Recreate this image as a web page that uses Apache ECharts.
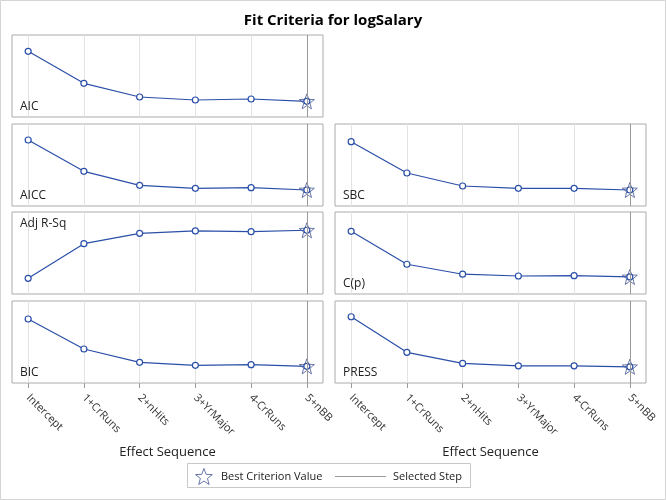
<!DOCTYPE html>
<html>
<head>
<meta charset="utf-8">
<script src="https://cdn.jsdelivr.net/npm/echarts@6/dist/echarts.min.js"></script>
<style>
html,body{margin:0;padding:0;background:#fff;}
#chart{width:666px;height:500px;}
</style>
</head>
<body>
<div id="chart"></div>
<script>
// ---- data ----
var categories = ['Intercept', '1+CrRuns', '2+nHits', '3+YrMajor', '4-CrRuns', '5+nBB'];
var selectedStep = '5+nBB';
var aic    = [-61, -157, -198, -207, -204, -211];
var aicc   = [-59, -153, -195, -204, -202, -209];
var adjRSq = [0.000, 0.396, 0.515, 0.542, 0.534, 0.550];
var bic    = [-57, -147, -187, -196, -194, -199];
var sbc    = [-57, -151, -190, -197, -197, -202];
var cp     = [290, 85, 23, 12, 14, 6];
var press  = [208, 129, 104.5, 99.2, 99.2, 97];

// ---- layout ----
var FONT = 'Open Sans';
var colLeft = [12, 335];
var rowTop = [35, 124, 212, 301];
var panelW = 311, panelH = 82;
var lineColor = '#2A4FA8';
var starColor = '#445694';
var starPath = 'path://M50,0 L62.35,33 L97.55,34.55 L69.95,56.5 L79.4,90.45 L50,71 L20.6,90.45 L30.05,56.5 L2.45,34.55 L37.65,33 Z';

var panels = [
  {name: 'AIC',      values: aic,    row: 0, col: 0, best: 'min', range: [-258, -12],   labelTop: false},
  {name: 'AICC',     values: aicc,   row: 1, col: 0, best: 'min', range: [-257, -11],   labelTop: false},
  {name: 'Adj R-Sq', values: adjRSq, row: 2, col: 0, best: 'max', range: [-0.18, 0.759], labelTop: true},
  {name: 'BIC',      values: bic,    row: 3, col: 0, best: 'min', range: [-249, -3],    labelTop: false},
  {name: 'SBC',      values: sbc,    row: 1, col: 1, best: 'min', range: [-250, -4],    labelTop: false},
  {name: 'C(p)',     values: cp,     row: 2, col: 1, best: 'min', range: [-100, 410],   labelTop: false},
  {name: 'PRESS',    values: press,  row: 3, col: 1, best: 'min', range: [61, 243],     labelTop: false}
];

var tickIdx = categories.map(function (c, i) { return i; });
var selIdx = categories.indexOf(selectedStep);

var grids = [], xAxes = [], yAxes = [], series = [], titles = [];

titles.push({
  text: 'Fit Criteria for logSalary',
  left: 'center', top: 13, padding: 0,
  textStyle: {fontFamily: FONT, fontSize: 15, fontWeight: 'bold', color: '#000'}
});

panels.forEach(function (p, i) {
  var isBottom = p.row === 3;
  grids.push({
    left: colLeft[p.col], top: rowTop[p.row], width: panelW, height: panelH,
    show: true, borderColor: '#ababab', borderWidth: 1, backgroundColor: 'transparent'
  });
  xAxes.push({
    gridIndex: i, type: 'value', min: -0.29, max: 5.29,
    axisLine: {show: false, onZero: false},
    axisTick: {show: isBottom, customValues: tickIdx, length: 5, lineStyle: {color: '#9a9a9a'}},
    axisLabel: {
      show: isBottom, customValues: tickIdx, rotate: -45, margin: 13,
      fontFamily: FONT, fontSize: 11, color: '#333',
      formatter: function (v) { return categories[Math.round(v)]; }
    },
    splitLine: {show: true, lineStyle: {color: '#e3e3e3', width: 1}},
    name: isBottom ? 'Effect Sequence' : '',
    nameLocation: 'middle', nameGap: 63,
    nameTextStyle: {fontFamily: FONT, fontSize: 13, color: '#222'}
  });
  yAxes.push({
    gridIndex: i, type: 'value', min: p.range[0], max: p.range[1], show: false,
    splitLine: {show: false}
  });
  // criterion line
  series.push({
    name: p.name, type: 'line', xAxisIndex: i, yAxisIndex: i,
    data: p.values.map(function (v, k) { return [k, v]; }),
    symbol: 'circle', symbolSize: 6, showAllSymbol: true,
    itemStyle: {color: '#fff', borderColor: lineColor, borderWidth: 1.2},
    lineStyle: {color: lineColor, width: 1.2},
    z: 3, silent: true
  });
  // selected step
  series.push({
    name: 'Selected Step', type: 'line', xAxisIndex: i, yAxisIndex: i,
    data: [], symbol: 'none',
    lineStyle: {color: '#999', width: 1},
    itemStyle: {color: '#999'},
    markLine: {
      silent: true, symbol: 'none', label: {show: false},
      lineStyle: {color: '#999', width: 1, type: 'solid'},
      data: [{xAxis: selIdx}]
    },
    z: 2
  });
  // best criterion
  var bestVal = p.best === 'min' ? Math.min.apply(null, p.values) : Math.max.apply(null, p.values);
  var bestIdx = p.values.indexOf(bestVal);
  series.push({
    name: 'Best Criterion Value', type: 'scatter', xAxisIndex: i, yAxisIndex: i,
    data: [[bestIdx, bestVal]],
    symbol: starPath, symbolSize: 15,
    itemStyle: {color: 'rgba(0,0,0,0)', borderColor: starColor, borderWidth: 1},
    z: 4, silent: true
  });
  // panel label
  var lblTop = p.labelTop ? rowTop[p.row] + 6 : rowTop[p.row] + 66;
  titles.push({
    text: p.name, left: colLeft[p.col] + 8, top: lblTop, padding: 0,
    textStyle: {fontFamily: FONT, fontSize: 12, fontWeight: 'normal', color: '#222'}
  });
});

var option = {
  animation: false,
  backgroundColor: '#fff',
  title: titles,
  grid: grids,
  xAxis: xAxes,
  yAxis: yAxes,
  series: series,
  legend: [
    {
      data: [{name: 'Best Criterion Value', icon: starPath,
              itemStyle: {color: 'rgba(0,0,0,0)', borderColor: starColor, borderWidth: 1}}],
      left: 195, top: 468, padding: 0, itemWidth: 18, itemHeight: 16, itemGap: 0,
      selectedMode: false,
      textStyle: {fontFamily: FONT, fontSize: 11, color: '#222', padding: [0, 0, 0, 3]}
    },
    {
      data: [{name: 'Selected Step', icon: 'rect', itemStyle: {color: '#999', borderWidth: 0}}],
      left: 335, top: 471, padding: 0, itemWidth: 51, itemHeight: 1, itemGap: 0,
      selectedMode: false,
      textStyle: {fontFamily: FONT, fontSize: 11, color: '#222', padding: [0, 0, 0, 2]}
    }
  ],
  graphic: [
    {type: 'rect', silent: true, shape: {x: 0.5, y: 0.5, width: 665, height: 499},
     style: {fill: 'none', stroke: '#d4d4d4', lineWidth: 1}},
    {type: 'rect', silent: true, shape: {x: 187.5, y: 463.5, width: 283, height: 24},
     style: {fill: 'none', stroke: '#c8c8c8', lineWidth: 1}}
  ]
};

var chart = echarts.init(document.getElementById('chart'), null, {renderer: 'canvas'});
chart.setOption(option);
</script>
</body>
</html>
